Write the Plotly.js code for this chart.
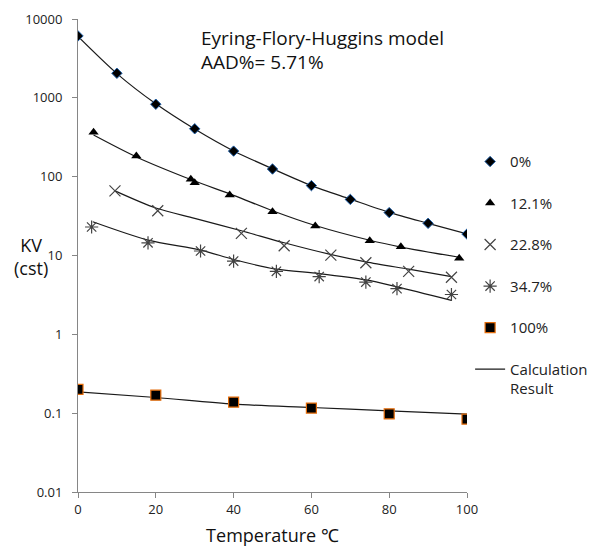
<!DOCTYPE html>
<html>
<head>
<meta charset="utf-8">
<script src="https://cdn.plot.ly/plotly-3.0.1.min.js"></script>
<style>html,body{margin:0;padding:0;background:#fff;}#chart{width:597px;height:552px;}</style>
</head>
<body>
<div id="chart"></div>
<script>
// ---- data ----
const seriesNames = ['0%', '12.1%', '22.8%', '34.7%', '100%'];

const x0 = [0, 10, 20, 30, 40, 50, 60, 70, 80, 90, 100];
const y0 = [6100, 2050, 830, 405, 211, 125, 77, 51.5, 35, 25.6, 18.7];

const x121 = [4, 15, 29, 30, 39, 50, 61, 75, 83, 98];
const y121 = [365, 183, 92.4, 83.7, 58.4, 35.9, 23.6, 15.4, 12.9, 9.2];

const x228 = [9.5, 20.5, 42, 53, 65, 74, 85, 96];
const y228 = [66, 37, 19.1, 13.3, 10.1, 8.1, 6.3, 5.3];

const x347 = [3.5, 18, 31.5, 40, 51, 62, 74, 82, 96];
const y347 = [23, 14.5, 11.4, 8.5, 6.3, 5.4, 4.6, 3.8, 3.2];

const x100 = [0, 20, 40, 60, 80, 100];
const y100 = [0.20, 0.169, 0.138, 0.116, 0.098, 0.084];

// calculation result (model curves)
const fx0 = [0, 10, 20, 30, 40, 50, 60, 70, 80, 90, 100];
const fy0 = [6000, 2030, 840, 402, 212, 126, 77, 52, 35.3, 25.6, 18.8];
const fx121 = [4, 15, 29, 40, 50, 61, 75, 83, 98];
const fy121 = [337, 178, 92, 58, 37, 24, 15.6, 12.8, 9.5];
const fx228 = [9.5, 20, 30, 42, 53, 64.6, 74, 85, 96];
const fy228 = [66, 40, 29.6, 20.6, 14.5, 10.4, 8.3, 6.7, 5.4];
const fx347 = [3.8, 18, 31.6, 40, 51, 62, 74, 82, 96];
const fy347 = [26.8, 15.7, 11.7, 8.9, 6.7, 5.9, 4.9, 4.0, 2.7];
const fx100 = [0, 20, 40, 60, 80, 100];
const fy100 = [0.186, 0.158, 0.130, 0.118, 0.107, 0.097];

const yTickVals = [0.01, 0.1, 1, 10, 100, 1000, 10000];
const yTickText = ['0.01', '0.1', '1', '10', '100', '1000', '10000'];
const xTickVals = [0, 20, 40, 60, 80, 100];

const FONT = 'Open Sans, Lato, sans-serif';
const lineStyle = {color: '#1a1a1a', width: 1.2, shape: 'spline', smoothing: 0.8};

const traces = [
  {x: x0, y: y0, name: seriesNames[0], mode: 'markers', legendgroup: 'a', legendrank: 1,
   marker: {symbol: 'diamond', size: 8, color: '#000', line: {color: '#1f5fa8', width: 1}}},
  {x: x121, y: y121, name: seriesNames[1], mode: 'markers', legendgroup: 'b', legendrank: 2,
   marker: {symbol: 'triangle-up', size: 9, color: '#000', line: {color: '#000', width: 0}}},
  {x: x228, y: y228, name: seriesNames[2], mode: 'markers', legendgroup: 'c', legendrank: 3,
   marker: {symbol: 'x-thin-open', size: 11, color: '#444', line: {color: '#444', width: 1.2}}},
  {x: x347, y: y347, name: seriesNames[3], mode: 'markers', legendgroup: 'd', legendrank: 4,
   marker: {symbol: 'asterisk-open', size: 11, color: '#444', line: {color: '#444', width: 1.2}}},
  {x: x100, y: y100, name: seriesNames[4], mode: 'markers', legendgroup: 'e', legendrank: 5,
   marker: {symbol: 'square', size: 10, color: '#000', line: {color: '#e46c0a', width: 1.2}}},
  {x: fx0, y: fy0, name: 'Calculation<br>Result', mode: 'lines', legendgroup: 'f', legendrank: 6, line: lineStyle},
  {x: fx121, y: fy121, mode: 'lines', showlegend: false, line: lineStyle},
  {x: fx228, y: fy228, mode: 'lines', showlegend: false, line: lineStyle},
  {x: fx347, y: fy347, mode: 'lines', showlegend: false, line: lineStyle},
  {x: fx100, y: fy100, mode: 'lines', showlegend: false, line: lineStyle}
];
// draw lines beneath markers
const ordered = traces.slice(5).concat(traces.slice(0, 5));

const layout = {
  width: 597, height: 552,
  margin: {l: 78, r: 130, t: 19, b: 60, autoexpand: false},
  paper_bgcolor: '#fff', plot_bgcolor: '#fff',
  font: {family: FONT, color: '#222', size: 13},
  showlegend: true,
  legend: {
    x: 1.008, xanchor: 'left', y: 0.733, yanchor: 'top',
    font: {family: FONT, size: 15, color: '#222'},
    tracegroupgap: 19, traceorder: 'grouped', valign: 'top',
    bgcolor: 'rgba(0,0,0,0)'
  },
  xaxis: {
    range: [0, 100], tickvals: xTickVals, showgrid: false, zeroline: false,
    showline: true, linecolor: '#868686', linewidth: 1,
    ticks: 'outside', ticklen: 5, tickcolor: '#868686',
    tickfont: {family: FONT, size: 13, color: '#222'},
    title: {text: 'Temperature ℃', font: {family: FONT, size: 18, color: '#111'}, standoff: 12}
  },
  yaxis: {
    type: 'log', range: [-2, 4], tickvals: yTickVals, ticktext: yTickText,
    showgrid: false, zeroline: false,
    showline: true, linecolor: '#868686', linewidth: 1,
    ticks: 'outside', ticklen: 5, tickcolor: '#868686', ticklabelstandoff: 7,
    tickfont: {family: FONT, size: 13, color: '#222'}
  },
  annotations: [
    {xref: 'paper', yref: 'paper', x: (199 - 78) / 389, y: (492 - 38) / 473, xanchor: 'left', yanchor: 'middle',
     text: 'Eyring-Flory-Huggins model', showarrow: false, font: {family: FONT, size: 19, color: '#111'}},
    {xref: 'paper', yref: 'paper', x: (199 - 78) / 389, y: (492 - 62) / 473, xanchor: 'left', yanchor: 'middle',
     text: 'AAD%= 5.71%', showarrow: false, font: {family: FONT, size: 19, color: '#111'}},
    {xref: 'paper', yref: 'paper', x: (31 - 78) / 389, y: (492 - 256) / 473, xanchor: 'center', yanchor: 'middle',
     text: 'KV<br>(cst)', showarrow: false, align: 'center', font: {family: FONT, size: 18, color: '#111'}}
  ]
};

Plotly.newPlot('chart', ordered, layout, {displayModeBar: false, staticPlot: true});
</script>
</body>
</html>
